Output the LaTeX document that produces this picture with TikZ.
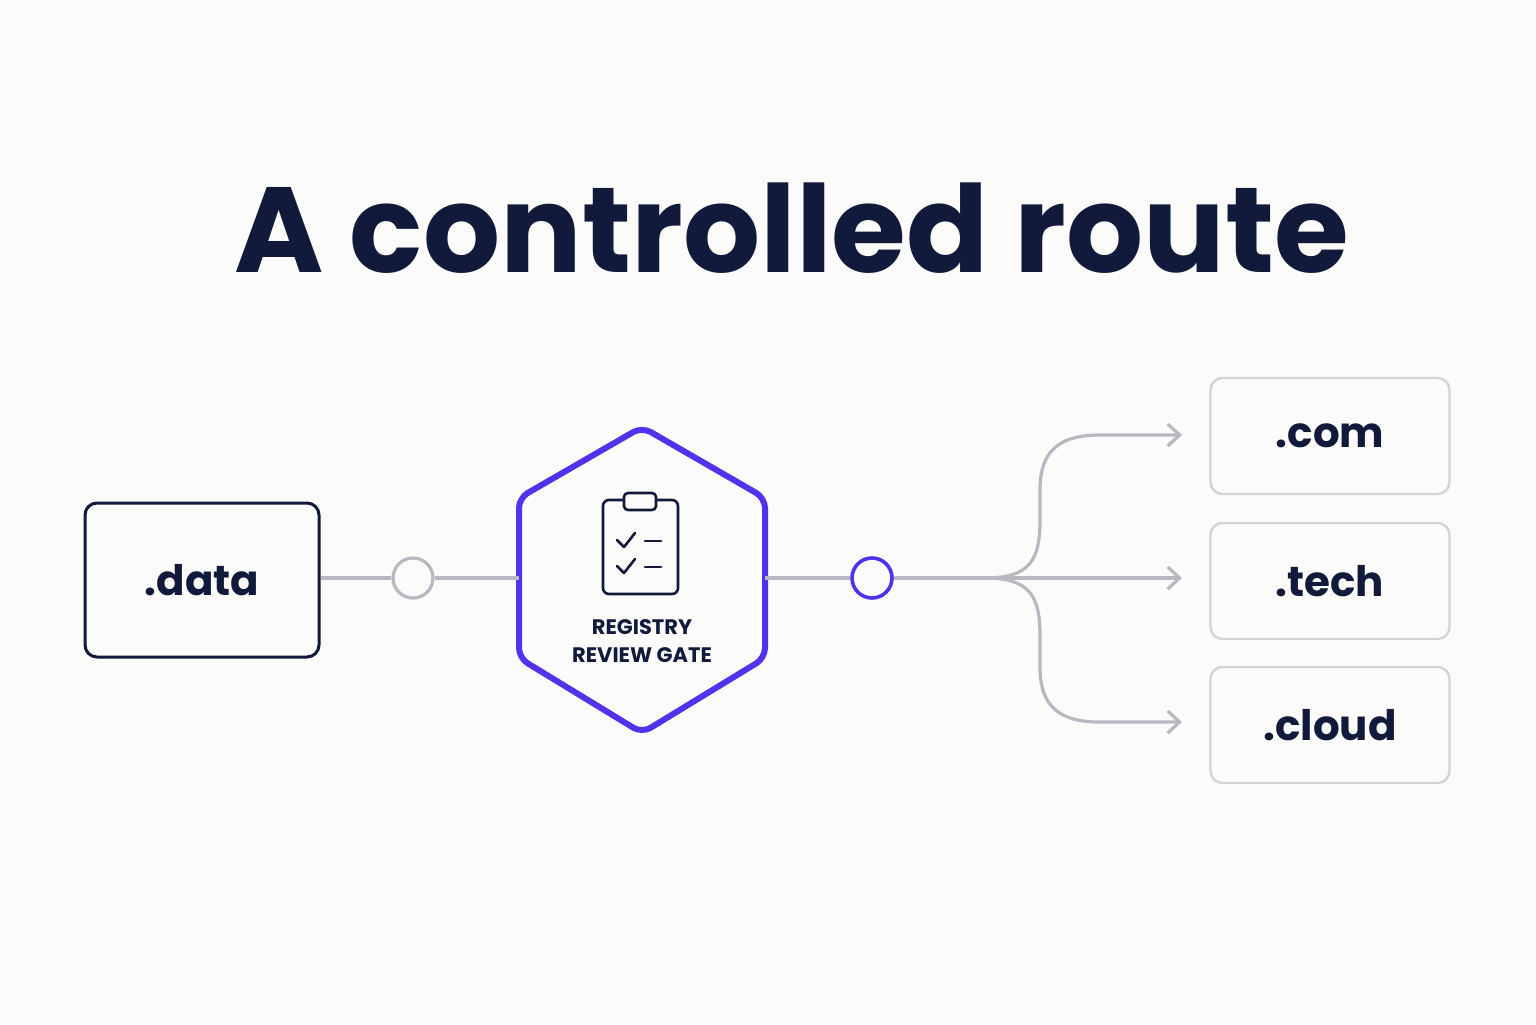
\documentclass[tikz,border=0pt]{standalone}
\usepackage{fontspec}
\setmainfont{Poppins}
\usetikzlibrary{arrows.meta}
\definecolor{navy}{HTML}{111A3A}
\definecolor{purp}{HTML}{5232EC}
\definecolor{gl}{HTML}{B8B8C2}
\definecolor{bl}{HTML}{D4D4D8}
\begin{document}
\begin{tikzpicture}[x=0.5pt,y=-0.5pt,
 gline/.style={gl,line width=1.6pt},
 dbox/.style={draw=bl,line width=1.2pt,rounded corners=6pt,minimum width=119.5pt,minimum height=58pt,font=\fontsize{21}{24}\selectfont\bfseries,text=navy}]
\fill[fill={rgb,255:red,251;green,251;blue,249}] (0,0) rectangle (1536,1024);
\useasboundingbox (0,0) rectangle (1536,1024);
\node[text=navy] (title) at (792,228) {\resizebox{557pt}{!}{\bfseries A controlled route}};
\node[draw=navy,line width=1.5pt,rounded corners=6pt,minimum width=117pt,minimum height=77pt,font=\fontsize{21}{24}\selectfont\bfseries,text=navy] (data) at (202,580) {.data};
\node[circle,draw=gl,line width=1.6pt,minimum size=20pt,inner sep=0] (c1) at (413,578) {};
\node[circle,draw=purp,line width=1.8pt,minimum size=20pt,inner sep=0] (c2) at (872,578) {};
\coordinate (hl) at (519,578); \coordinate (hr) at (765,578);
\draw[purp,line width=3pt,rounded corners=5pt] (642,427)--(765,498)--(765,658)--(642,733)--(519,658)--(519,498)--cycle;
% clipboard
\draw[navy,line width=1.3pt,rounded corners=3pt] (603,500) rectangle (678,594);
\draw[navy,line width=1.3pt,rounded corners=2pt,fill={rgb,255:red,251;green,251;blue,249}] (624,493) rectangle (656,510);
\draw[navy,line width=1.3pt,line cap=round,line join=round] (617,540)--(624,547)--(635,533) (617,566)--(624,573)--(635,559);
\draw[navy,line width=1.3pt,line cap=round] (645,541)--(661,541) (645,567)--(661,567);
\node[font=\fontsize{10.5}{14}\selectfont\bfseries,text=navy,align=center] (lab) at (642,641) {REGISTRY\\REVIEW GATE};
\draw[gline] (data.east|-c1)--(c1) (c1)--(hl);
\draw[gline] (hr)--(c2);
\node[dbox] (com) at (1330,436) {.com};
\node[dbox] (tech) at (1330,581) {.tech};
\node[dbox] (cloud) at (1330,725) {.cloud};
\coordinate (sp) at (985,578);
\coordinate (a1) at (1182,435); \coordinate (a2) at (1182,578); \coordinate (a3) at (1182,722);
\draw[gline] (c2)--(sp);
\draw[gline,-{Straight Barb[length=6pt,width=11pt]}] (sp)--(a2);
\draw[gline,-{Straight Barb[length=6pt,width=11pt]}] (sp) .. controls (1030,578) and (1040,560) .. (1040,520) -- (1040,490) .. controls (1040,450) and (1060,435) .. (1100,435) -- (a1);
\draw[gline,-{Straight Barb[length=6pt,width=11pt]}] (sp) .. controls (1030,578) and (1040,596) .. (1040,636) -- (1040,667) .. controls (1040,707) and (1060,722) .. (1100,722) -- (a3);
\end{tikzpicture}
\end{document}
